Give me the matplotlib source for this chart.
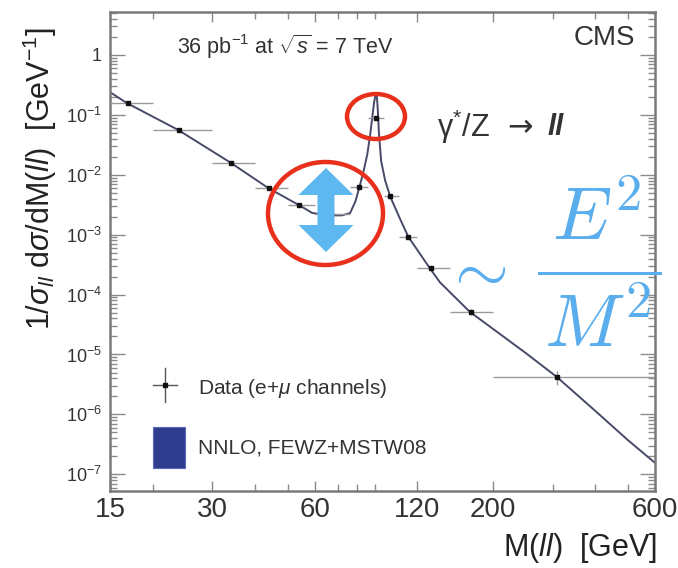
import matplotlib
matplotlib.use('Agg')
import matplotlib.pyplot as plt
from matplotlib.patches import Ellipse, Polygon, Rectangle
from matplotlib.lines import Line2D
from matplotlib.ticker import FixedLocator, LogLocator, NullFormatter

plt.rcParams['font.family'] = ['Liberation Sans', 'DejaVu Sans']
plt.rcParams['mathtext.fontset'] = 'custom'
plt.rcParams['mathtext.rm'] = 'Liberation Sans'
plt.rcParams['mathtext.it'] = 'Liberation Sans:italic'
plt.rcParams['mathtext.bf'] = 'Liberation Sans:bold'

# measured points (bin centre, value) and bin edges
mass = [17, 24, 34, 44, 54, 67, 81, 90.5, 100, 113, 132, 173, 310]
dsig = [0.158, 0.056, 0.0158, 0.0060, 0.0031, 0.0022, 0.0063, 0.089,
        0.0044, 0.00091, 0.00028, 5.1e-5, 4.2e-6]
bin_lo = [15, 20, 30, 40, 50, 60, 76, 86, 96, 106, 120, 150, 200]
bin_hi = [20, 30, 40, 50, 60, 76, 86, 96, 106, 120, 150, 200, 600]
rel_err = [0.04, 0.04, 0.05, 0.06, 0.07, 0.06, 0.05, 0.03, 0.05, 0.07, 0.08, 0.12, 0.25]

# NNLO prediction
th_mass = [15, 16.8, 23.8, 34, 43.8, 54, 59, 66.6, 72, 76.2, 79, 81.6, 83.6, 85.6,
           87.2, 88.5, 89.6, 90.4, 91.2, 91.9, 92.6, 94, 96.6, 100, 107, 113, 131,
           140, 171, 210, 250, 309, 400, 500, 600]
th_val = [0.24, 0.158, 0.056, 0.0158, 0.0060, 0.0031, 0.0023, 0.0021, 0.0021,
          0.0023, 0.0036, 0.0070, 0.012, 0.022, 0.045, 0.09, 0.16, 0.21, 0.23,
          0.12, 0.05, 0.017, 0.0080, 0.0043, 0.0018, 0.00092, 0.00027, 0.00016,
          5.2e-5, 2.2e-5, 1.06e-5, 4.2e-6, 1.15e-6, 3.7e-7, 1.55e-7]

xticks = [15, 30, 60, 120, 200, 600]
yticks = [1e-7, 1e-6, 1e-5, 1e-4, 1e-3, 1e-2, 1e-1, 1]
ytick_labels = ['$10^{-7}$', '$10^{-6}$', '$10^{-5}$', '$10^{-4}$', '$10^{-3}$',
                '$10^{-2}$', '$10^{-1}$', '1']

W, H = 678, 568
def px(x, y):
    return x / W, 1 - y / H

fig = plt.figure(figsize=(6.78, 5.68), dpi=100)
ax = fig.add_axes([110 / W, 1 - 491 / H, 545 / W, 479 / H])
ax.set_xscale('log'); ax.set_yscale('log')
ax.set_xlim(15, 600); ax.set_ylim(5.26e-8, 5.22)

ax.plot(th_mass, th_val, color='#474a68', lw=1.4, zorder=2)
xerr = [[m - lo for m, lo in zip(mass, bin_lo)], [hi - m for m, hi in zip(mass, bin_hi)]]
yerr = [[v * e for v, e in zip(dsig, rel_err)], [v * e for v, e in zip(dsig, rel_err)]]
ax.errorbar(mass, dsig, xerr=xerr, yerr=yerr, fmt='s', ms=3.5, color='#111111',
            ecolor='#9a9a9a', elinewidth=1, capsize=0, zorder=3)

ax.xaxis.set_major_locator(FixedLocator(xticks))
ax.set_xticklabels([str(t) for t in xticks])
ax.xaxis.set_minor_locator(LogLocator(subs=range(2, 10), numticks=20))
ax.xaxis.set_minor_formatter(NullFormatter())
ax.yaxis.set_major_locator(FixedLocator(yticks))
ax.set_yticklabels(ytick_labels)
ax.yaxis.set_minor_locator(LogLocator(subs=range(2, 10), numticks=20))
ax.yaxis.set_minor_formatter(NullFormatter())
ax.tick_params(axis='both', which='both', direction='in', top=True, right=True,
               color='#8a8a8a', width=1)
ax.tick_params(axis='x', which='major', length=7, labelsize=20, pad=4, labelcolor='#333333')
ax.tick_params(axis='x', which='minor', length=5)
ax.tick_params(axis='y', which='major', length=11, labelsize=13, pad=6, labelcolor='#333333')
ax.tick_params(axis='y', which='minor', length=5)
for s in ax.spines.values():
    s.set_color('#7a7a7a'); s.set_linewidth(1.8)

fig.text(*px(40, 178), r'1/$\sigma_{ll}$ d$\sigma$/dM($ll$)  [GeV$^{-1}$]', rotation=90,
         ha='center', va='center', fontsize=22, color='#222222')
fig.text(*px(657, 548), r'M($ll$)  [GeV]', ha='right', va='center', fontsize=22, color='#222222')

fig.text(*px(177, 47), r'36 pb$^{-1}$ at $\sqrt{s}$ = 7 TeV', ha='left', va='center',
         fontsize=15.5, color='#333333')
fig.text(*px(635, 38), 'CMS', ha='right', va='center', fontsize=20, color='#333333')
fig.text(*px(437, 127), 'γ$^{*}$/Z', ha='left', va='center', fontsize=22, color='#333333')
fig.text(*px(520, 128), '→', ha='center', va='center', fontsize=22, color='#333333',
         family='DejaVu Sans')
fig.text(*px(547, 127), 'll', ha='left', va='center', fontsize=21, color='#333333',
         fontweight='bold', style='italic')

# legend drawn by hand
fig.add_artist(Line2D([153 / W, 177 / W], [1 - 385 / H] * 2, color='#555555', lw=1))
fig.add_artist(Line2D([165 / W] * 2, [1 - 368 / H, 1 - 402 / H], color='#555555', lw=1))
fig.add_artist(Line2D([165 / W], [1 - 385 / H], marker='s', ms=3, color='#111111'))
fig.text(*px(198, 389), r'Data (e+$\mu$ channels)', ha='left', va='center', fontsize=15,
         color='#333333')
fig.add_artist(Rectangle(px(153, 468), 32 / W, 41 / H, transform=fig.transFigure,
                         facecolor='#2f3e8e', edgecolor='#5a6ab8', lw=0.8))
fig.text(*px(198, 448), 'NNLO, FEWZ+MSTW08', ha='left', va='center', fontsize=15,
         color='#333333')

# overlay annotations
red = '#e8301c'
fig.add_artist(Ellipse(px(325.5, 213.5), 115 / W, 103 / H, transform=fig.transFigure,
                       fill=False, edgecolor=red, lw=3.2, zorder=5))
fig.add_artist(Ellipse(px(376, 116.5), 58 / W, 45 / H, transform=fig.transFigure,
                       fill=False, edgecolor=red, lw=3.2, zorder=5))
arrow_px = [(326, 168), (353.5, 195), (334.5, 195), (334.5, 225), (353.5, 225), (326, 252),
            (298.5, 225), (317.5, 225), (317.5, 195), (298.5, 195)]
fig.add_artist(Polygon([px(x, y) for x, y in arrow_px], closed=True,
                       transform=fig.transFigure, facecolor='#5cb8ef', edgecolor='none', zorder=6))

blue = '#5aaeed'
fig.text(*px(474, 272), r'$\sim$', ha='center', va='center', fontsize=50, color=blue,
         math_fontfamily='cm')
fig.text(*px(597, 240), r'$E^2$', ha='center', va='baseline', fontsize=54, color=blue,
         math_fontfamily='cm')
fig.text(*px(597, 347), r'$M^2$', ha='center', va='baseline', fontsize=54, color=blue,
         math_fontfamily='cm')
fig.add_artist(Line2D([539 / W, 660 / W], [1 - 273 / H] * 2, color=blue, lw=2.2))

fig.savefig('out.png', dpi=100, facecolor='white')
